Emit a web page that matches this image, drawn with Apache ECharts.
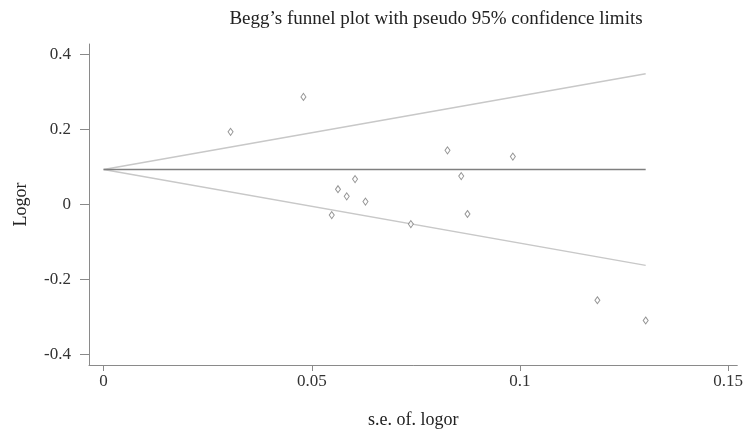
<!DOCTYPE html>
<html>
<head>
<meta charset="utf-8">
<script src="https://cdn.jsdelivr.net/npm/echarts@6/dist/echarts.min.js"></script>
<style>
html,body{margin:0;padding:0;background:#fff;}
#chart{width:746px;height:434px;}
</style>
</head>
<body>
<div id="chart"></div>
<script>
// Study points: standard error (x) and log odds ratio (y)
var seValues = [0.0305, 0.0480, 0.0826, 0.0983, 0.0604, 0.0859, 0.0563, 0.0584, 0.0629, 0.0548, 0.0874, 0.0738, 0.1186, 0.1302];
var logorValues = [0.193, 0.286, 0.1435, 0.127, 0.067, 0.075, 0.040, 0.021, 0.007, -0.029, -0.026, -0.053, -0.256, -0.310];
// Funnel lines (pseudo 95% confidence limits)
var lineSe = [0, 0.1302];
var pooledLine = [0.0925, 0.0925];
var upperLimit = [0.0925, 0.348];
var lowerLimit = [0.0925, -0.163];
// Tick labels
var xTicks = [0, 0.05, 0.1, 0.15];
var yTicks = [-0.4, -0.2, 0, 0.2, 0.4];

function pairs(xs, ys){ return xs.map(function(x,i){ return [x, ys[i]]; }); }

var font = 'Liberation Serif, Times New Roman, serif';
var axisGray = '#8a8a8a';
var chart = echarts.init(document.getElementById('chart'), null, {renderer:'canvas'});
chart.setOption({
  animation: false,
  backgroundColor: '#fff',
  title: {
    text: 'Begg’s funnel plot with pseudo 95% confidence limits',
    left: 431, top: 5, textAlign: 'center',
    textStyle: {fontFamily: font, fontWeight: 'normal', fontSize: 19, color: '#222'}
  },
  grid: {left: 89, right: 0, top: 44, bottom: 62, containLabel: false},
  xAxis: {
    type: 'value', min: -0.0035, max: 0.1522,
    name: 's.e. of. logor', nameLocation: 'middle', nameGap: 46,
    nameTextStyle: {fontFamily: font, fontSize: 18, color: '#222'},
    axisLine: {show: true, onZero: false, lineStyle: {color: axisGray, width: 1}},
    axisTick: {show: true, length: 6, customValues: xTicks, lineStyle: {color: axisGray}},
    axisLabel: {customValues: xTicks, fontFamily: font, fontSize: 17, color: '#333', margin: 8},
    splitLine: {show: false}
  },
  yAxis: {
    type: 'value', min: -0.4285, max: 0.427,
    name: 'Logor', nameLocation: 'middle', nameGap: 59, nameRotate: 90,
    nameTextStyle: {fontFamily: font, fontSize: 18, color: '#222'},
    axisLine: {show: true, onZero: false, lineStyle: {color: axisGray, width: 1}},
    axisTick: {show: true, length: 9, customValues: yTicks, lineStyle: {color: axisGray}},
    axisLabel: {customValues: yTicks, fontFamily: font, fontSize: 17, color: '#333', margin: 18},
    splitLine: {show: false}
  },
  series: [
    {type: 'line', data: pairs(lineSe, upperLimit), symbol: 'none', lineStyle: {color: '#c8c8c8', width: 1.5}, z: 1},
    {type: 'line', data: pairs(lineSe, lowerLimit), symbol: 'none', lineStyle: {color: '#c8c8c8', width: 1.5}, z: 1},
    {type: 'line', data: pairs(lineSe, pooledLine), symbol: 'none', lineStyle: {color: '#7f7f7f', width: 1.5}, z: 2},
    {type: 'scatter', data: pairs(seValues, logorValues), symbol: 'diamond', symbolSize: [5, 7],
     itemStyle: {color: '#fff', borderColor: '#7a7a7a', borderWidth: 1}, z: 3}
  ]
});
</script>
</body>
</html>
